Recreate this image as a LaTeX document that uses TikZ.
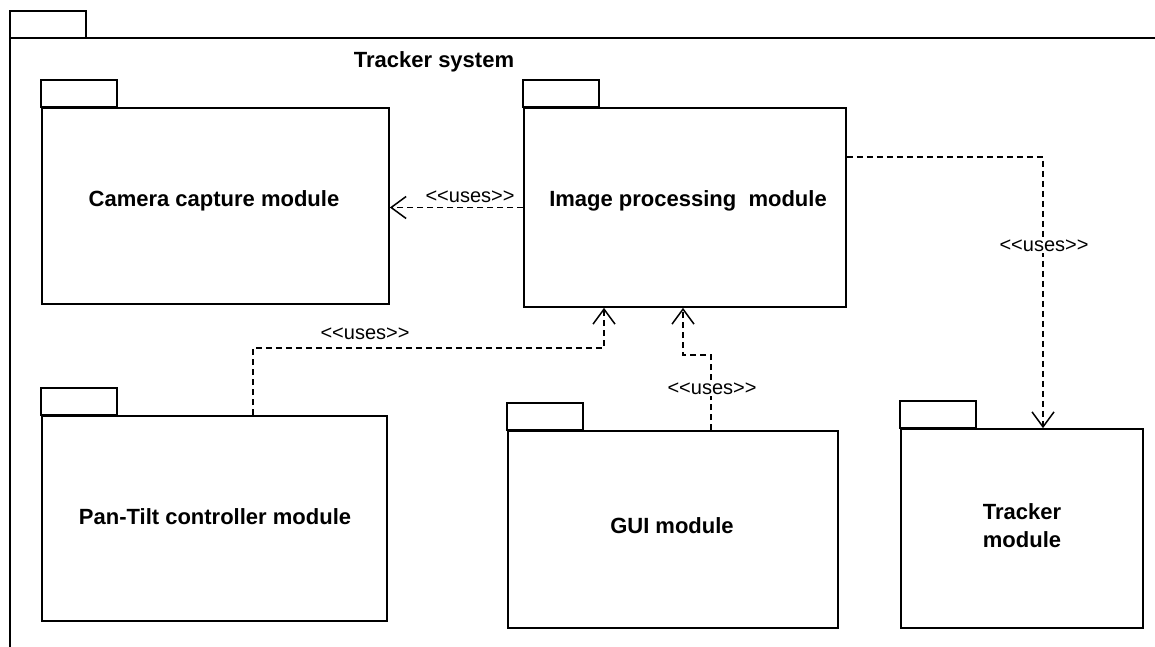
\documentclass[tikz,border=0pt]{standalone}
\usepackage{fontspec}
\setmainfont{Liberation Sans}
\usetikzlibrary{arrows.meta}
\newcommand{\uses}{\mbox{<}\mbox{<}uses\mbox{>}\mbox{>}}
\begin{document}
\begin{tikzpicture}[x=1pt,y=-1pt,
  line width=1.7pt,
  body/.style={draw, rectangle, inner sep=0pt},
  btxt/.style={font=\fontsize{22}{28}\selectfont\bfseries, align=center, inner sep=0pt},
  dep/.style={dash pattern=on 6pt off 4pt, line width=1.5pt, -{Straight Barb[length=15pt,width=22pt]}},
  lbl/.style={font=\fontsize{20}{24}\selectfont, inner sep=1pt},
  lblw/.style={lbl, fill=white}
]
\useasboundingbox (0,0) rectangle (1155,647);
% outer package
\draw (10,660) -- (10,38) -- (1160,38);
\draw (10,38) rectangle (86,11);
\node[btxt] (title) at (434,62) {Tracker system};

% packages
\node[body, minimum width=347pt, minimum height=196pt] (cam) at (215.5,206) {};
\node[body, minimum width=322pt, minimum height=199pt] (img) at (685,207.5) {};
\node[body, minimum width=345pt, minimum height=205pt] (pt) at (214.5,518.5) {};
\node[body, minimum width=330pt, minimum height=197pt] (gui) at (673,529.5) {};
\node[body, minimum width=242pt, minimum height=199pt] (trk) at (1022,528.5) {};
\foreach \n in {cam,img,pt,gui,trk}{\draw (\n.north west) rectangle ++(76,-27);}

\node[btxt] (camt) at (214,201) {Camera capture module};
\node[btxt] (imgt) at (688,201) {Image processing\ \ module};
\node[btxt] (ptt) at (215,517) {Pan-Tilt controller module};
\node[btxt] (guit) at (672,526) {GUI module};
\node[btxt] (trkt) at (1022,526) {Tracker\\module};

% dependencies
\draw[dep] (img.west) -- (img.west -| cam.east);
\node[lbl] (l1) at (470,197) {\uses};

\coordinate (p1) at (253,348);
\coordinate (p2) at (604,348);
\draw[dep] (p1 |- pt.north) -- (p1) -- (p2) -- (p2 |- img.south);
\node[lbl] (l2) at (365,334) {\uses};

\coordinate (g1) at (711,355);
\coordinate (g2) at (683,355);
\draw[dep] (g1 |- gui.north) -- (g1) -- (g2) -- (g2 |- img.south);
\node[lblw] (l3) at (712,389) {\uses};

\coordinate (t1) at (1043,157);
\draw[dep] (img.east |- t1) -- (t1) -- (t1 |- trk.north);
\node[lblw] (l4) at (1044,246) {\uses};
\end{tikzpicture}
\end{document}
